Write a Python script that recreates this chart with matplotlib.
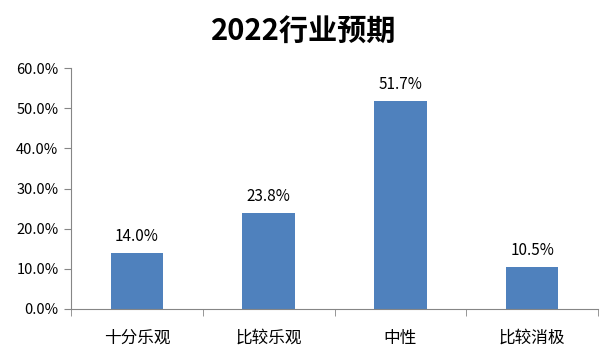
import matplotlib.pyplot as plt
import numpy as np
from matplotlib.ticker import FixedLocator, PercentFormatter

plt.rcParams["font.family"] = ["Noto Sans CJK SC", "DejaVu Sans"]

categories = ["十分乐观", "比较乐观", "中性", "比较消极"]
values = [14.0, 23.8, 51.7, 10.5]
title = "2022行业预期"

fig = plt.figure(figsize=(6.08, 3.57), dpi=100)
ax = fig.add_axes([71 / 608, 1 - 309 / 357, 527 / 608, 241 / 357])

x = np.arange(len(categories))
bars = ax.bar(x, values, width=0.4, color="#4F81BD")
for xi, v in zip(x, values):
    ax.text(xi, v + 2.0, f"{v:.1f}%", ha="center", va="bottom", fontsize=11, color="#000000")

ax.set_xlim(-0.5, len(categories) - 0.5)
ax.set_ylim(0, 60)
ax.set_yticks(np.arange(0, 61, 10))
ax.yaxis.set_major_formatter(PercentFormatter(decimals=1))
ax.set_xticks(x)
ax.set_xticklabels(categories, fontsize=12)
ax.xaxis.set_minor_locator(FixedLocator(np.arange(-0.5, len(categories), 1)))
ax.tick_params(axis="x", which="major", length=0, pad=15)
ax.tick_params(axis="x", which="minor", length=5, color="#868686")
ax.tick_params(axis="y", length=5, color="#868686", labelsize=10.5, pad=4)

for side in ["top", "right"]:
    ax.spines[side].set_visible(False)
for side in ["left", "bottom"]:
    ax.spines[side].set_color("#868686")

fig.text(0.5, 1 - 32 / 357, title, ha="center", va="center", fontsize=21, fontweight="bold")

fig.savefig("out.png", dpi=100)
